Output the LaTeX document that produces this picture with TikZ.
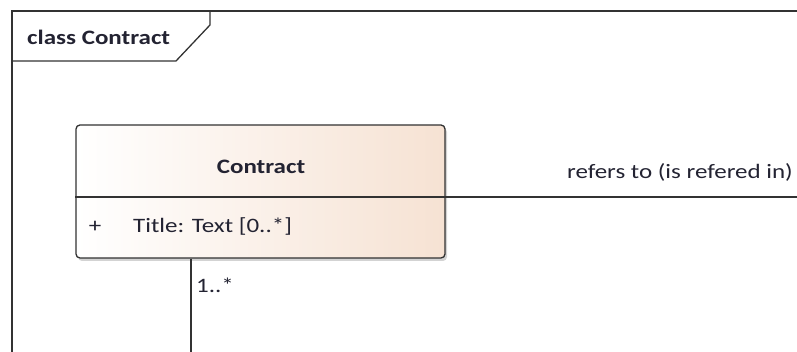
\documentclass[tikz,border=0pt]{standalone}
\usepackage{fontspec}
\setmainfont[FakeStretch=1.22]{Carlito}
\usetikzlibrary{shadows}
\definecolor{linegray}{RGB}{50,50,50}
\definecolor{peach}{RGB}{246,226,211}
\definecolor{txt}{RGB}{35,35,50}
\begin{document}
\begin{tikzpicture}[x=1pt, y=1pt, font=\fontsize{20.5}{23}\selectfont, text=txt]
\useasboundingbox (0,0) rectangle (797,352);
% frame and tab
\draw[linegray, line width=1.3pt] (12,0) -- (12,341) -- (797,341);
\draw[linegray, line width=1.3pt] (210,341) -- (210,327) -- (176,291) -- (12,291);
\node[anchor=west, font=\bfseries\fontsize{20.5}{23}\selectfont, inner sep=0pt] (frametitle) at (27,315){class Contract};
% class box
\node[draw=linegray, line width=1.3pt, rounded corners=4pt, minimum width=369pt, minimum height=133pt, left color=white, right color=peach, drop shadow={shadow xshift=2pt, shadow yshift=-3pt, opacity=0.35}] (contract) at (260.5,160.5){};
\node[font=\bfseries\fontsize{20.5}{23}\selectfont] (cname) at (261,185){Contract};
\draw[linegray, line width=1.3pt] (contract.west |- 0,155) -- (contract.east |- 0,155);
\node[inner sep=0pt] (vis) at (95,125){+};
\node[anchor=west, inner sep=0pt] (attr) at (133,126){Title: Text [0..*]};
% associations
\coordinate (rightend) at (797,155);
\coordinate (bottomend) at (191,0);
\draw[linegray, line width=1.3pt] (contract.east |- rightend) -- (rightend);
\draw[linegray, line width=1.3pt] (contract.south -| bottomend) -- (bottomend);
\node[anchor=east, inner sep=0pt] (role) at (793,180){refers to (is refered in)};
\node[anchor=west, inner sep=0pt] (mult) at (196,67){1..*};
\end{tikzpicture}
\end{document}
